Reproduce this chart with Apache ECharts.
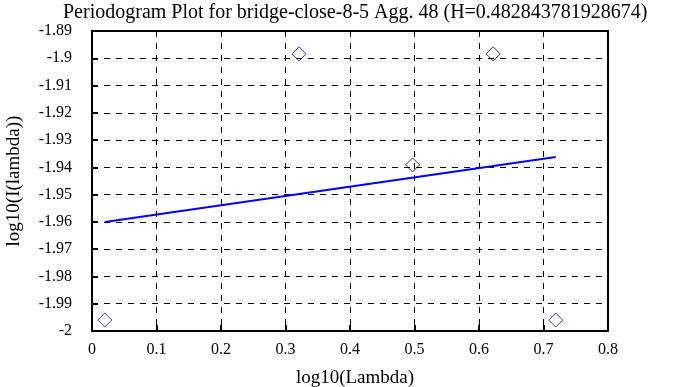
<!DOCTYPE html>
<html><head><meta charset="utf-8">
<script src="https://cdn.jsdelivr.net/npm/echarts@6/dist/echarts.min.js"></script>
<style>html,body{margin:0;padding:0;background:#fff}#c{width:693px;height:387px}</style>
</head><body><div id="c"></div>
<script>
const titleText = 'Periodogram Plot for bridge-close-8-5 Agg. 48 (H=0.482843781928674)';
const xName = 'log10(Lambda)';
const yName = 'log10(I(lambda))';
const bluePts = [[0.020, -1.996], [0.321, -1.8984], [0.719, -1.996]];
const blackPts = [[0.497, -1.9391], [0.622, -1.8984]];
const fitLine = [[0.020, -1.960], [0.719, -1.9362]];
const xTicks = [0, 0.1, 0.2, 0.3, 0.4, 0.5, 0.6, 0.7, 0.8];
const yTicks = [-2, -1.99, -1.98, -1.97, -1.96, -1.95, -1.94, -1.93, -1.92, -1.91, -1.9, -1.89];

const font = 'Liberation Serif, Times New Roman, serif';
const chart = echarts.init(document.getElementById('c'));
const common = {
  axisLine: {show: true, onZero: false, lineStyle: {color: '#000', width: 2}},
  axisTick: {show: true, inside: true, length: 6, lineStyle: {color: '#000', width: 2}},
  splitLine: {show: true, lineStyle: {color: '#000', type: [6, 6], width: 1}},
};
chart.setOption({
  animation: false,
  title: {text: titleText, left: 58, top: -2,
    textStyle: {fontFamily: font, fontWeight: 'normal', fontSize: 20, color: '#000'}},
  grid: {left: 92, right: 85, top: 31, bottom: 56, show: true, borderColor: '#000', borderWidth: 2,
    containLabel: false, outerBoundsMode: 'none'},
  xAxis: Object.assign({type: 'value', min: xTicks[0], max: xTicks[xTicks.length-1], interval: 0.1,
    name: xName, nameLocation: 'middle', nameGap: 38,
    nameTextStyle: {fontFamily: font, fontSize: 19, color: '#000', padding: [0, 0, 0, 10]},
    axisLabel: {fontFamily: font, fontSize: 16, color: '#000', margin: 11,
      formatter: v => String(+v.toFixed(2))}}, common),
  yAxis: Object.assign({type: 'value', min: yTicks[0], max: yTicks[yTicks.length-1], interval: 0.01,
    name: yName, nameLocation: 'middle', nameGap: 68,
    nameTextStyle: {fontFamily: font, fontSize: 19, color: '#000'},
    axisLabel: {fontFamily: font, fontSize: 16, color: '#000', margin: 20,
      formatter: v => String(+v.toFixed(2))}}, common),
  series: [
    {type: 'scatter', data: bluePts, symbol: 'diamond', symbolSize: 14,
      itemStyle: {color: 'rgba(0,0,0,0)', borderColor: '#0000ff', borderWidth: 1}},
    {type: 'scatter', data: blackPts, symbol: 'diamond', symbolSize: 14,
      itemStyle: {color: 'rgba(0,0,0,0)', borderColor: '#000', borderWidth: 1}},
    {type: 'line', data: fitLine, showSymbol: false, symbol: 'none',
      lineStyle: {color: '#0000ff', width: 2}}
  ]
});
</script></body></html>
